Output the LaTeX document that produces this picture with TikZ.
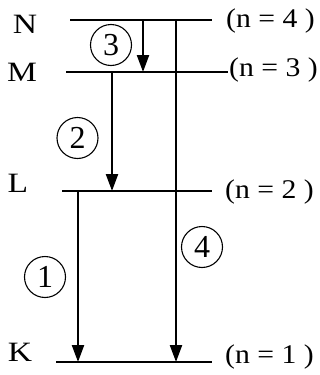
\documentclass[tikz,border=0pt]{standalone}
\usepackage{fontspec}
\setmainfont{Liberation Serif}
\usetikzlibrary{arrows.meta}
\begin{document}
\begin{tikzpicture}[x=1pt,y=-1pt,
  level/.style={line width=2.2pt},
  trans/.style={line width=2.2pt,-{Triangle[length=17pt,width=12pt]}},
  lbl/.style={font=\fontsize{28}{30}\selectfont,inner sep=0pt,xscale=1.2},
  qlbl/.style={font=\fontsize{27}{29}\selectfont,inner sep=0pt,xscale=1.1,anchor=west},
  num/.style={draw,circle,line width=1.1pt,minimum size=41pt,inner sep=0pt,font=\fontsize{32}{33}\selectfont}]
\useasboundingbox (0,0) rectangle (320,375);
% levels
\coordinate (N1) at (70,20);  \coordinate (N2) at (212,20);
\coordinate (M1) at (66,72);  \coordinate (M2) at (228,72);
\coordinate (L1) at (62,191); \coordinate (L2) at (212,191);
\coordinate (K1) at (56,362); \coordinate (K2) at (212,362);
\draw[level] (N1) -- (N2);
\draw[level] (M1) -- (M2);
\draw[level] (L1) -- (L2);
\draw[level] (K1) -- (K2);
% level letters
\node[lbl] (lN) at (25,24) {N};
\node[lbl] (lM) at (22,72) {M};
\node[lbl] (lL) at (18,183) {L};
\node[lbl] (lK) at (20,352) {K};
% quantum numbers
\node[qlbl] (qN) at (226,21) {(n = 4 )};
\node[qlbl] (qM) at (229,70) {(n = 3 )};
\node[qlbl] (qL) at (225,192) {(n = 2 )};
\node[qlbl] (qK) at (225,357) {(n = 1 )};
% transition points
\coordinate (a3) at (143,20);  \coordinate (b3) at (143,72);
\coordinate (a2) at (112,72);  \coordinate (b2) at (112,191);
\coordinate (a1) at (78,191);  \coordinate (b1) at (78,362);
\coordinate (a4) at (176,20);  \coordinate (b4) at (176,362);
\draw[trans] (a3) -- (b3);
\draw[trans] (a2) -- (b2);
\draw[trans] (a1) -- (b1);
\draw[trans] (a4) -- (b4);
% circled numbers
\node[num] (c3) at (111,45) {3};
\node[num] (c2) at (77.5,138) {2};
\node[num] (c4) at (202,247) {4};
\node[num] (c1) at (45,277) {1};
\end{tikzpicture}
\end{document}
